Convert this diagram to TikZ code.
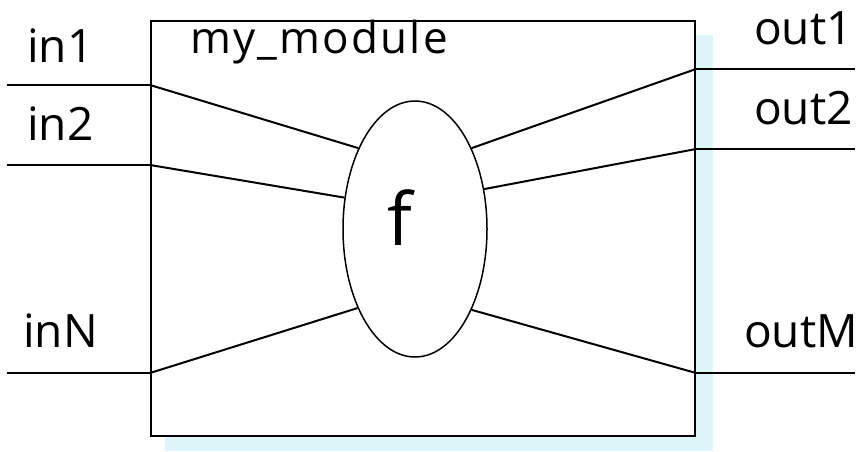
\documentclass[tikz,border=0pt]{standalone}
\usepackage{fontspec}
\setmainfont{Open Sans}
\usetikzlibrary{shapes.geometric}
\definecolor{shadowcyan}{HTML}{DDF4F9}
\tikzset{
  wire/.style={line width=2pt, line cap=butt},
  portlabel/.style={anchor=base west, inner sep=0pt, font=\fontsize{46}{50}\selectfont},
  modbox/.style={draw, line width=2pt, fill=white, rectangle, inner sep=0pt,
    minimum width=544pt, minimum height=415pt},
  funcnode/.style={draw, line width=1.5pt, ellipse, fill=white, inner sep=0pt,
    minimum width=144pt, minimum height=256pt},
}
\begin{document}
\begin{tikzpicture}[x=1pt, y=-1pt]
  \useasboundingbox (0,0) rectangle (862,451);

  % drop shadow behind the module
  \fill[shadowcyan] (165,35) rectangle (713,451);

  % module box and function ellipse
  \node[modbox] (mod) at (423,228.5) {};
  \node[funcnode] (fn) at (415,229) {};
  \node[anchor=base, inner sep=0pt, font=\fontsize{73}{80}\selectfont] (flabel) at (400,245) {f};
  \node[anchor=base west, inner sep=0pt, font=\fontsize{44}{50}\selectfont\addfontfeatures{LetterSpace=5}] (title) at (190,53) {my\_module};

  % port points on the box edges
  \coordinate (p1) at (mod.west |- 0,85);
  \coordinate (p2) at (mod.west |- 0,165);
  \coordinate (pN) at (mod.west |- 0,373);
  \coordinate (q1) at (mod.east |- 0,69);
  \coordinate (q2) at (mod.east |- 0,149);
  \coordinate (qM) at (mod.east |- 0,373);

  % free ends of the external wires
  \coordinate (a1) at (7,85);
  \coordinate (a2) at (7,165);
  \coordinate (aN) at (7,373);
  \coordinate (b1) at (855,69);
  \coordinate (b2) at (855,149);
  \coordinate (bM) at (855,373);

  % external wires
  \draw[wire] (a1) -- (p1);
  \draw[wire] (a2) -- (p2);
  \draw[wire] (aN) -- (pN);
  \draw[wire] (q1) -- (b1);
  \draw[wire] (q2) -- (b2);
  \draw[wire] (qM) -- (bM);

  % internal wires into and out of f
  \draw[wire] (p1) -- (fn.125);
  \draw[wire] (p2) -- (fn.156);
  \draw[wire] (pN) -- (fn.234);
  \draw[wire] (q1) -- (fn.55);
  \draw[wire] (q2) -- (fn.30);
  \draw[wire] (qM) -- (fn.305);

  % port labels
  \node[portlabel] (lin1) at (27,62) {in1};
  \node[portlabel] (lin2) at (27,140) {in2};
  \node[portlabel] (linN) at (23,347) {inN};
  \node[portlabel] (lout1) at (754,44) {out1};
  \node[portlabel] (lout2) at (754,124) {out2};
  \node[portlabel] (loutM) at (744,347) {outM};
\end{tikzpicture}
\end{document}
